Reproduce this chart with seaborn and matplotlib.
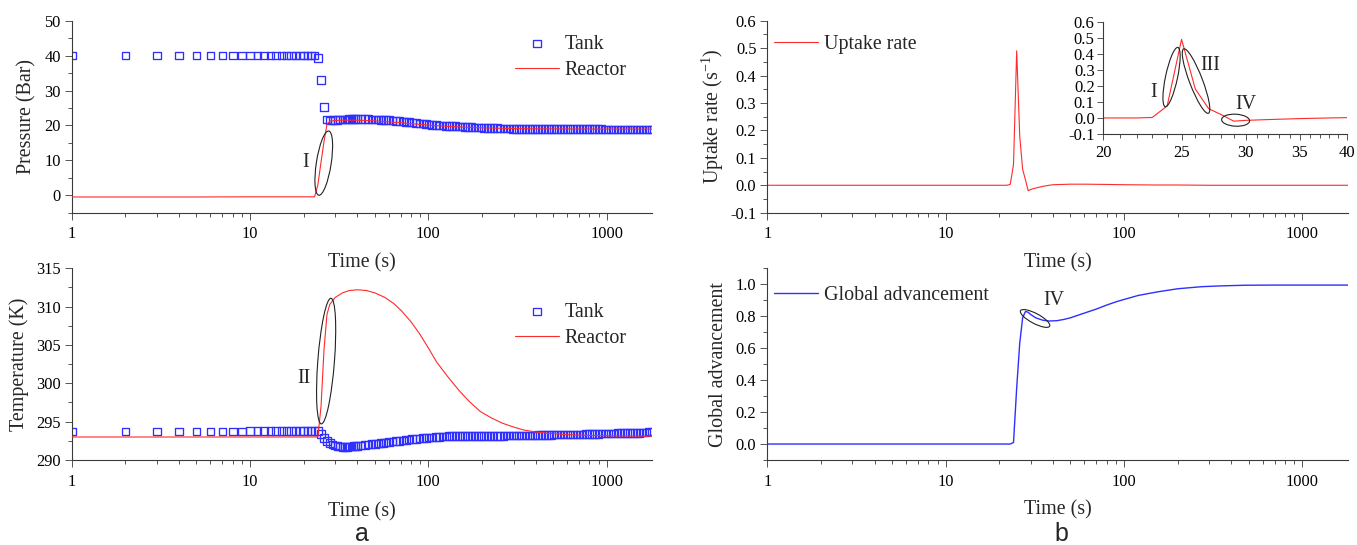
import numpy as np
import matplotlib
matplotlib.use("Agg")
import matplotlib.pyplot as plt
import matplotlib.ticker as mticker
import matplotlib.transforms as mtransforms
from matplotlib.patches import Ellipse
import seaborn as sns

# ---------------- data ----------------
# Tank: hollow-square markers (same time stamps for pressure and temperature)
tank_time = list(range(1, 41)) + [
    42, 44, 46, 48, 50, 52, 54, 56, 58, 60,
    63, 66, 69, 72, 75, 78, 81, 85, 89, 93,
    97, 101, 105, 110, 115, 120, 125, 130, 136, 142,
    148, 154, 160, 167, 174, 181, 189, 197, 205, 214,
    223, 232, 242, 252, 263, 274, 285, 297, 310, 323,
    336, 350, 365, 380, 396, 413, 430, 448, 467, 487,
    507, 528, 550, 573, 597, 622, 648, 675, 703, 732,
    763, 795, 828, 862, 898, 935, 974, 1015, 1057, 1101,
    1147, 1195, 1245, 1297, 1351, 1407, 1466, 1527, 1590, 1656,
    1725, 1800]

tank_pressure = [40.0] * 23 + [
    39.4, 33.0, 25.2, 21.7, 21.4, 21.5, 21.6, 21.6, 21.7, 21.7,
    21.7, 21.7, 21.8, 21.8, 21.8, 21.8, 21.8] + [
    21.8, 21.8, 21.8, 21.7, 21.7, 21.7, 21.6, 21.6, 21.5, 21.5,
    21.4, 21.3, 21.2, 21.1, 21.0, 20.9, 20.8, 20.7, 20.6, 20.5,
    20.4, 20.3, 20.2, 20.1, 20.0, 19.95, 19.9, 19.85, 19.8, 19.75,
    19.7, 19.65, 19.6, 19.55, 19.5, 19.45, 19.4, 19.35, 19.3, 19.3,
    19.25, 19.2, 19.2, 19.15, 19.15, 19.1, 19.1, 19.05, 19.05, 19.0,
    19.0, 19.0, 19.0, 18.95, 18.95, 18.95, 18.95, 18.95, 18.9, 18.9] + \
    [18.9] * 16 + [18.85] * 16

tank_temperature = [293.7] * 9 + [293.75] * 15 + [
    293.4, 292.9, 292.5, 292.2, 292.0, 291.9, 291.8, 291.75, 291.7, 291.7,
    291.7, 291.75, 291.75, 291.8, 291.8, 291.85] + [
    291.9, 291.95, 292.0, 292.05, 292.1, 292.15, 292.2, 292.25, 292.3, 292.35,
    292.4, 292.45, 292.5, 292.55, 292.6, 292.65, 292.7, 292.75, 292.8, 292.85,
    292.9, 292.95, 292.95, 293.0, 293.0, 293.05, 293.05, 293.1, 293.1, 293.1] + \
    [293.1] * 4 + [293.15] * 6 + [293.15] * 5 + [293.2] * 5 + \
    [293.2] * 5 + [293.25] * 5 + [293.3] * 5 + [293.35] * 5 + \
    [293.4] * 5 + [293.45] * 5 + [293.5] * 4 + [293.55] * 4 + \
    [293.6] * 2 + [293.7] * 2

# Reactor pressure (red line)
reactor_time_p = [1, 5, 10, 15, 20, 23, 24, 25, 26, 27, 28, 30, 33, 36, 40,
                  45, 50, 60, 70, 80, 100, 130, 160, 200, 300, 500, 1000, 1800]
reactor_pressure = [-0.5, -0.5, -0.45, -0.45, -0.45, -0.45, 3.0, 9.5, 15.5,
                    20.3, 21.2, 21.4, 21.5, 21.5, 21.5, 21.4, 21.3, 21.0, 20.8,
                    20.5, 20.1, 19.7, 19.5, 19.3, 19.1, 19.0, 18.95, 18.95]

# Reactor temperature (red line)
reactor_time_t = [1, 10, 20, 24, 25, 26, 27, 28, 30, 33, 36, 40, 45, 50, 57,
                  64, 71, 80, 89, 100, 111, 128, 148, 170, 196, 225, 260, 300,
                  344, 400, 456, 604, 800, 1063, 1800]
reactor_temperature = [293.0, 293.0, 293.0, 293.0, 297.0, 304.5, 309.0, 310.3,
                       311.2, 311.8, 312.1, 312.2, 312.1, 311.8, 311.2, 310.4,
                       309.4, 308.0, 306.5, 304.6, 302.8, 300.9, 299.1, 297.6,
                       296.3, 295.5, 294.8, 294.3, 293.9, 293.65, 293.5, 293.3,
                       293.2, 293.15, 293.1]

# Uptake rate (red line, main panel and inset)
uptake_time = [1, 10, 20, 22, 23, 24, 25, 26, 27, 28, 29, 30, 32, 35, 38, 40,
               45, 50, 60, 80, 100, 150, 200, 300, 500, 1000, 1800]
uptake_rate = [0.0, 0.0, 0.0, 0.0, 0.003, 0.075, 0.49, 0.18, 0.058, 0.02,
               -0.02, -0.015, -0.01, -0.004, 0.0, 0.002, 0.003, 0.004, 0.004,
               0.003, 0.002, 0.001, 0.001, 0.0, 0.0, 0.0, 0.0]

# Global advancement (blue line)
adv_time = [1, 10, 20, 23, 24, 25, 26, 27, 28, 29, 30, 32, 35, 38, 42, 46, 50,
            60, 70, 80, 90, 100, 120, 155, 200, 273, 350, 478, 700, 1000, 1800]
adv_value = [0.0, 0.0, 0.0, 0.0, 0.01, 0.35, 0.63, 0.79, 0.83, 0.825, 0.81,
             0.79, 0.775, 0.77, 0.772, 0.78, 0.79, 0.82, 0.845, 0.87, 0.89,
             0.905, 0.93, 0.953, 0.972, 0.985, 0.99, 0.994, 0.995, 0.995, 0.995]

time_ticks = [1, 10, 100, 1000]
inset_ticks = [20, 25, 30, 35, 40]

# ---------------- style ----------------
sns.set_theme(style="ticks")
plt.rcParams["font.family"] = ["Liberation Serif", "DejaVu Serif"]
plt.rcParams["mathtext.fontset"] = "custom"
plt.rcParams["mathtext.rm"] = "Liberation Serif"
plt.rcParams["mathtext.default"] = "regular"
plt.rcParams["axes.unicode_minus"] = False

RED = "#ff2a2a"
BLUE = "#2f2fff"
AX_COL = "#3a3a3a"
LABEL_FS = 14.4
TICK_FS = 11.8
NOTE_FS = 14.4
MARK_S = 30
MARK_LW = 0.95

W, H = 1357, 545
fig = plt.figure(figsize=(W / 100, H / 100), dpi=100)
fig.patch.set_facecolor("white")


def px_axes(left, top, right, bottom):
    return fig.add_axes([left / W, 1 - bottom / H, (right - left) / W, (bottom - top) / H])


def style(ax, tick_fs=TICK_FS):
    sns.despine(ax=ax)
    for s in ("left", "bottom"):
        ax.spines[s].set_color(AX_COL)
        ax.spines[s].set_linewidth(0.8)
    ax.set_facecolor("none")
    ax.grid(False)
    ax.tick_params(which="major", direction="out", length=4.8, width=0.6,
                   color=AX_COL, labelsize=tick_fs, labelcolor="black", pad=3)
    ax.tick_params(which="minor", direction="out", length=2.6, width=0.6, color=AX_COL)
    ax.tick_params(axis="x", which="major", pad=5)


def time_axis(ax):
    ax.set_xscale("log")
    ax.set_xlim(1, 1800)
    ax.xaxis.set_major_locator(mticker.FixedLocator(time_ticks))
    ax.xaxis.set_major_formatter(mticker.FuncFormatter(lambda v, p: f"{v:g}"))
    ax.xaxis.set_minor_locator(mticker.LogLocator(base=10, subs=np.arange(2, 10), numticks=30))
    ax.xaxis.set_minor_formatter(mticker.NullFormatter())
    ax.set_xlabel("Time (s)", fontsize=LABEL_FS, va="center")


def ring(ax, t, y, w_px, h_px, angle):
    tr = fig.dpi_scale_trans + mtransforms.ScaledTranslation(t, y, ax.transData)
    e = Ellipse((0, 0), w_px / 100, h_px / 100, angle=angle, transform=tr,
                fill=False, edgecolor="#222222", linewidth=0.8, clip_on=False, zorder=5)
    ax.add_artist(e)


def legend(ax, x, y):
    h, l = ax.get_legend_handles_labels()
    ax.legend(h, l, loc="upper left", bbox_to_anchor=(x, y), frameon=False,
              fontsize=LABEL_FS, handlelength=2.19, handletextpad=0.28,
              labelspacing=0.37, borderpad=0, borderaxespad=0)


# ---------------- (a) top: pressure ----------------
ax1 = px_axes(71.7, 20.7, 652.3, 212.7)
time_axis(ax1)
sns.scatterplot(x=tank_time, y=tank_pressure, ax=ax1, marker="s", s=MARK_S,
                facecolor="none", edgecolor=BLUE, linewidth=MARK_LW, label="Tank", zorder=2)
sns.lineplot(x=reactor_time_p, y=reactor_pressure, ax=ax1, color=RED,
             linewidth=0.8, label="Reactor", zorder=3)
ax1.set_ylim(-5, 50)
ax1.yaxis.set_major_locator(mticker.FixedLocator([0, 10, 20, 30, 40, 50]))
ax1.yaxis.set_minor_locator(mticker.MultipleLocator(5))
ax1.set_ylabel("Pressure (Bar)", fontsize=LABEL_FS, va="center")
style(ax1)
ax1.xaxis.set_label_coords(0.5, -0.2635)
ax1.yaxis.set_label_coords(-0.077, 0.5)
legend(ax1, 0.764, 0.926)
ring(ax1, 25.9, 9.2, 65, 14.8, 81.2)
ax1.text(20.6, 9.5, "I", fontsize=NOTE_FS, ha="center", va="center")

# ---------------- (a) bottom: temperature ----------------
ax2 = px_axes(71.7, 268.3, 652.3, 460)
time_axis(ax2)
sns.scatterplot(x=tank_time, y=tank_temperature, ax=ax2, marker="s", s=MARK_S,
                facecolor="none", edgecolor=BLUE, linewidth=MARK_LW, label="Tank", zorder=2)
sns.lineplot(x=reactor_time_t, y=reactor_temperature, ax=ax2, color=RED,
             linewidth=0.8, label="Reactor", zorder=3)
ax2.set_ylim(290, 315)
ax2.yaxis.set_major_locator(mticker.MultipleLocator(5))
ax2.yaxis.set_minor_locator(mticker.MultipleLocator(2.5))
ax2.set_ylabel("Temperature (K)", fontsize=LABEL_FS, va="center")
style(ax2)
ax2.xaxis.set_label_coords(0.5, -0.27)
ax2.yaxis.set_label_coords(-0.0897, 0.5)
legend(ax2, 0.764, 0.821)
ring(ax2, 26.7, 302.9, 126, 16.6, 85.6)
ax2.text(20.1, 300.65, "II", fontsize=NOTE_FS, ha="center", va="center")

# ---------------- (b) top: uptake rate ----------------
ax3 = px_axes(767.3, 20.7, 1348, 212.7)
time_axis(ax3)
sns.lineplot(x=uptake_time, y=uptake_rate, ax=ax3, color=RED, linewidth=0.8,
             label="Uptake rate")
ax3.set_ylim(-0.1, 0.6)
ax3.yaxis.set_major_locator(mticker.MultipleLocator(0.1))
ax3.yaxis.set_minor_locator(mticker.MultipleLocator(0.05))
ax3.yaxis.set_major_formatter(mticker.FormatStrFormatter("%.1f"))
ax3.set_ylabel("Uptake rate (s$^{\\mathregular{-1}}$)", fontsize=LABEL_FS, va="center")
style(ax3)
ax3.xaxis.set_label_coords(0.5, -0.2635)
ax3.yaxis.set_label_coords(-0.0942, 0.5)
legend(ax3, 0.012, 0.926)

# inset
axi = px_axes(1103, 21.7, 1347, 134)
sns.lineplot(x=uptake_time, y=uptake_rate, ax=axi, color=RED, linewidth=0.8)
axi.set_xscale("log")
axi.set_xlim(20, 40)
axi.set_ylim(-0.1, 0.6)
axi.xaxis.set_major_locator(mticker.FixedLocator(inset_ticks))
axi.xaxis.set_major_formatter(mticker.FuncFormatter(lambda v, p: f"{v:g}"))
axi.xaxis.set_minor_locator(mticker.FixedLocator([v for v in range(21, 40) if v % 5]))
axi.xaxis.set_minor_formatter(mticker.NullFormatter())
axi.yaxis.set_major_locator(mticker.MultipleLocator(0.1))
axi.yaxis.set_major_formatter(mticker.FormatStrFormatter("%.1f"))
axi.set_xlabel("")
axi.set_ylabel("")
style(axi, tick_fs=12)
axi.tick_params(which="major", length=4, pad=2)
axi.tick_params(axis="x", which="major", pad=4)
axi.tick_params(which="minor", length=2.6)
if axi.get_legend() is not None:
    axi.get_legend().remove()
ring(axi, 24.3, 0.255, 60.6, 12, 78)
ring(axi, 26.05, 0.23, 69, 13, 111)
ring(axi, 29.15, -0.014, 28, 12, -3)
axi.text(23.1, 0.161, "I", fontsize=NOTE_FS, ha="center", va="center")
axi.text(27.1, 0.327, "III", fontsize=NOTE_FS, ha="center", va="center")
axi.text(30.0, 0.085, "IV", fontsize=NOTE_FS, ha="center", va="center")

# ---------------- (b) bottom: global advancement ----------------
ax4 = px_axes(767.3, 268.3, 1348, 460)
time_axis(ax4)
sns.lineplot(x=adv_time, y=adv_value, ax=ax4, color=BLUE, linewidth=1.0,
             label="Global advancement")
ax4.set_ylim(-0.1, 1.1)
ax4.yaxis.set_major_locator(mticker.FixedLocator([0.0, 0.2, 0.4, 0.6, 0.8, 1.0]))
ax4.yaxis.set_minor_locator(mticker.FixedLocator([-0.1, 0.1, 0.3, 0.5, 0.7, 0.9, 1.1]))
ax4.yaxis.set_major_formatter(mticker.FormatStrFormatter("%.1f"))
ax4.set_ylabel("Global advancement", fontsize=LABEL_FS, va="center")
style(ax4)
ax4.xaxis.set_label_coords(0.5, -0.26)
ax4.yaxis.set_label_coords(-0.0844, 0.5)
legend(ax4, 0.012, 0.908)
ring(ax4, 31.7, 0.786, 33, 10, -28)
ax4.text(40.2, 0.90, "IV", fontsize=NOTE_FS, ha="center", va="center")

# panel letters
fig.text(361.7 / W, 1 - 541 / H, "a", family=["Liberation Sans", "DejaVu Sans"],
         fontsize=18, ha="center", va="baseline")
fig.text(1061 / W, 1 - 541 / H, "b", family=["Liberation Sans", "DejaVu Sans"],
         fontsize=18, ha="center", va="baseline")

fig.savefig("out.png", dpi=100, facecolor="white")
